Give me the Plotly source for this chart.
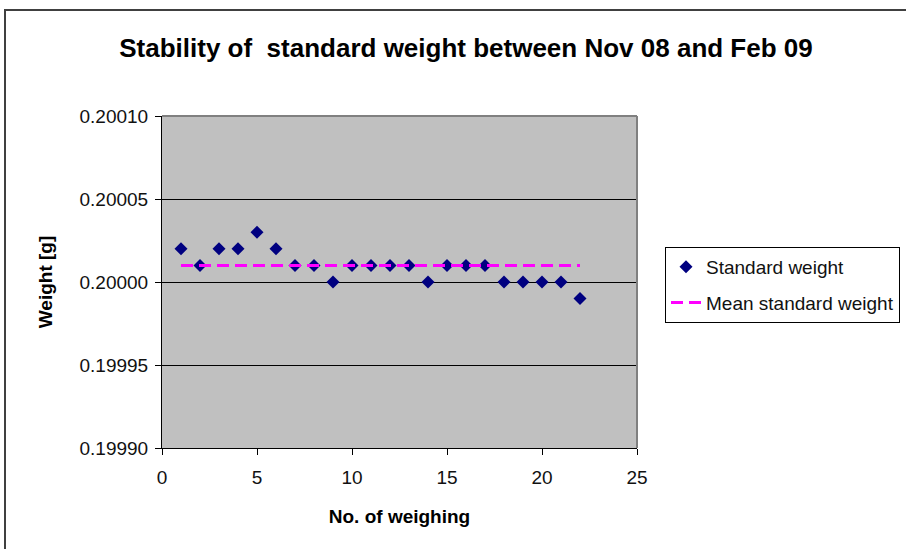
import plotly.graph_objects as go

weighing_no = list(range(1, 23))
standard_weight = [0.20002, 0.20001, 0.20002, 0.20002, 0.20003, 0.20002, 0.20001, 0.20001,
                   0.20000, 0.20001, 0.20001, 0.20001, 0.20001, 0.20000, 0.20001, 0.20001,
                   0.20001, 0.20000, 0.20000, 0.20000, 0.20000, 0.19999]
mean_weight = [0.200010] * 22

title_text = "Stability of  standard weight between Nov 08 and Feb 09"
y_ticks = [0.19990, 0.19995, 0.20000, 0.20005, 0.20010]
x_ticks = [0, 5, 10, 15, 20, 25]

L, R, T, B = 162, 269, 116, 101
W, H = 906, 549
pw, ph = W - L - R, H - T - B

def px_x(px):
    return (px - L) / pw

def px_y(py):
    return (H - B - py) / ph

fig = go.Figure()
fig.add_trace(go.Scatter(
    x=weighing_no, y=standard_weight, mode="markers", name="Standard weight",
    legendgroup="a",
    marker=dict(symbol="diamond", color="#000080", size=10),
))
fig.add_trace(go.Scatter(
    x=weighing_no, y=mean_weight, mode="lines", name="Mean standard weight",
    legendgroup="b",
    line=dict(color="#FF00FF", width=3, dash="12px,6px"),
))

fig.update_layout(
    width=W, height=H,
    margin=dict(l=L, r=R, t=T, b=B, autoexpand=False),
    paper_bgcolor="white",
    plot_bgcolor="#C0C0C0",
    font=dict(family="Arial, Liberation Sans, sans-serif", size=19, color="#111111"),
    title=dict(text="<b>" + title_text + "</b>", x=px_x(466), xref="paper", xanchor="center",
               y=1 - 48 / H, yanchor="middle", font=dict(size=26, color="#000000")),
    showlegend=True,
    legend=dict(x=px_x(665), y=px_y(247), xanchor="left", yanchor="top",
                bgcolor="white", bordercolor="#000000", borderwidth=1,
                font=dict(size=19), tracegroupgap=8, itemwidth=30),
    shapes=[
        dict(type="rect", xref="paper", yref="paper",
             x0=px_x(5), x1=px_x(912), y0=px_y(556), y1=px_y(10),
             line=dict(color="#404040", width=2), fillcolor="rgba(0,0,0,0)", layer="below"),
        dict(type="line", xref="paper", yref="paper", x0=0, x1=1, y0=1, y1=1,
             line=dict(color="#808080", width=2)),
        dict(type="line", xref="paper", yref="paper", x0=1, x1=1, y0=0, y1=1,
             line=dict(color="#808080", width=2)),
    ],
)

fig.update_xaxes(
    range=[0, 25], tickvals=x_ticks, ticktext=[str(v) for v in x_ticks],
    showgrid=False, zeroline=False,
    showline=True, linecolor="#000000", linewidth=1,
    ticks="outside", ticklen=6, tickcolor="#000000",
    tickfont=dict(size=19), ticklabelstandoff=6,
    title=dict(text="<b>No. of weighing</b>", font=dict(size=19, color="#000000"), standoff=22),
)
fig.update_yaxes(
    range=[0.19990, 0.20010], tickvals=y_ticks, ticktext=["%.5f" % v for v in y_ticks],
    showgrid=True, gridcolor="#000000", gridwidth=1, zeroline=False,
    showline=True, linecolor="#000000", linewidth=1,
    ticks="outside", ticklen=6, tickcolor="#000000",
    tickfont=dict(size=19), ticklabelstandoff=3,
    title=dict(text="<b>Weight [g]</b>", font=dict(size=19, color="#000000"), standoff=21),
)

fig.write_html("out.html", config={"displayModeBar": False},
               post_script="document.body.style.margin='0';")
